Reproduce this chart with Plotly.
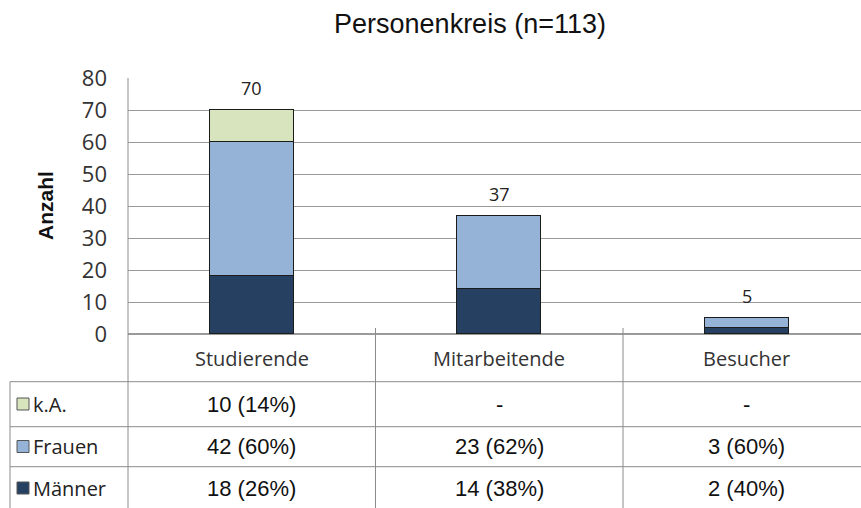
import plotly.graph_objects as go

categories = ["Studierende", "Mitarbeitende", "Besucher"]
maenner = [18, 14, 2]
frauen = [42, 23, 3]
ka = [10, 0, 0]
series_names = ["k.A.", "Frauen", "Männer"]
y_ticks = [0, 10, 20, 30, 40, 50, 60, 70, 80]

colors = {"Männer": "#254061", "Frauen": "#95B3D7", "k.A.": "#D7E4BD"}
totals = [m + f + k for m, f, k in zip(maenner, frauen, ka)]

W, H = 861, 508
L, R, T, B = 128, 861, 78, 334  # plot area in pixels
pw, ph = R - L, B - T


def px(x):
    return (x - L) / pw


def py(y):
    return (B - y) / ph


ARIAL = "Liberation Sans, Arial, sans-serif"
CAL = "Open Sans, sans-serif"

fig = go.Figure()
for name, vals in [("Männer", maenner), ("Frauen", frauen), ("k.A.", ka)]:
    fig.add_trace(go.Bar(
        x=list(range(len(categories))), y=vals, name=name, width=0.34,
        marker=dict(color=colors[name], line=dict(color="#1b1b1b", width=1)),
        showlegend=False, hoverinfo="skip"))

# total labels
for i, t in enumerate(totals):
    fig.add_annotation(x=i, y=t, xref="x", yref="y", text=str(t), showarrow=False,
                       xanchor="center", yanchor="bottom", yshift=8,
                       font=dict(family=CAL, size=18, color="#222"))

shapes = []
grey = "#8c8c8c"
# table lines
for yy in [381.7, 426.7, 466.7]:
    shapes.append(dict(type="line", xref="paper", yref="paper", x0=px(10), x1=px(861),
                       y0=py(yy), y1=py(yy), line=dict(color=grey, width=1)))
shapes.append(dict(type="line", xref="paper", yref="paper", x0=px(10), x1=px(10),
                   y0=py(381.7), y1=py(510), line=dict(color=grey, width=1)))
shapes.append(dict(type="line", xref="paper", yref="paper", x0=0, x1=0,
                   y0=1, y1=py(510), line=dict(color=grey, width=1)))
for b in [0.5, 1.5]:
    shapes.append(dict(type="line", xref="x", yref="paper", x0=b, x1=b,
                       y0=py(328), y1=py(510), line=dict(color=grey, width=1)))

row_centers = {"k.A.": 404, "Frauen": 446.5, "Männer": 488}
row_vals = {"k.A.": ka, "Frauen": frauen, "Männer": maenner}
for name in series_names:
    yc = row_centers[name]
    shapes.append(dict(type="rect", xref="paper", yref="paper", x0=px(17), x1=px(29),
                       y0=py(yc - 6), y1=py(yc + 6), fillcolor=colors[name],
                       line=dict(color="#555", width=1)))
    fig.add_annotation(x=px(31), y=py(yc), xref="paper", yref="paper", text=name,
                       showarrow=False, xanchor="left", yanchor="middle",
                       font=dict(family=CAL, size=20, color="#222"))
    for i, v in enumerate(row_vals[name]):
        txt = f"{v} ({round(100 * v / totals[i])}%)" if v else "-"
        fig.add_annotation(x=i, y=py(yc), xref="x", yref="paper", text=txt,
                           showarrow=False, xanchor="center", yanchor="middle",
                           font=dict(family=ARIAL, size=22, color="#111"))

for i, c in enumerate(categories):
    fig.add_annotation(x=i, y=py(358), xref="x", yref="paper", text=c, showarrow=False,
                       xanchor="center", yanchor="middle",
                       font=dict(family=CAL, size=20, color="#333"))

fig.add_annotation(x=px(45), y=py(206), xref="paper", yref="paper", text="<b>Anzahl</b>",
                   textangle=-90, showarrow=False, xanchor="center", yanchor="middle",
                   font=dict(family=ARIAL, size=21, color="#111"))

fig.update_layout(
    width=W, height=H,
    margin=dict(l=L, r=W - R, t=T, b=H - B, pad=0),
    paper_bgcolor="white", plot_bgcolor="white",
    barmode="stack", bargap=0,
    title=dict(text="Personenkreis (n=113)", x=470 / W, xanchor="center", y=1 - 24 / H,
               yanchor="middle", font=dict(family=ARIAL, size=27, color="#111")),
    xaxis=dict(range=[-0.5, -0.5 + pw / 247.5], showticklabels=False, showgrid=False,
               zeroline=False, showline=False, ticks=""),
    yaxis=dict(range=[0, 80], tickvals=y_ticks, showgrid=True, gridcolor="#9a9a9a",
               gridwidth=1, zeroline=True, zerolinecolor="#9a9a9a", showline=False,
               ticks="", ticklabelstandoff=20,
               tickfont=dict(family=CAL, size=22, color="#333")),
    shapes=shapes,
)

fig.write_html("out.html", config={"displayModeBar": False},
               post_script="document.body.style.margin='0';")
